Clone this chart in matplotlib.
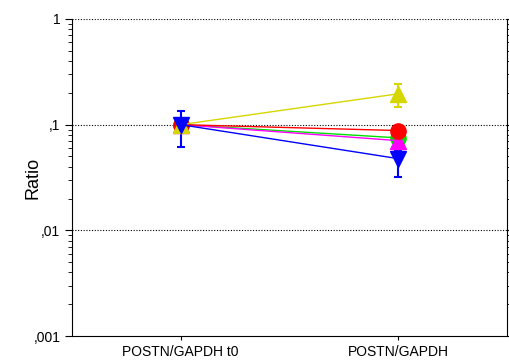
import matplotlib
matplotlib.use("Agg")
import matplotlib.pyplot as plt
from matplotlib.ticker import LogLocator, FuncFormatter, NullFormatter

plt.rcParams['font.family'] = ['Liberation Sans', 'DejaVu Sans']

# data
categories = ['POSTN/GAPDH t0', 'POSTN/GAPDH']
yellow_vals = [0.1, 0.196]
yellow_err = [[0.0, 0.048], [0.0, 0.048]]
green_vals = [0.1, 0.075]
green_err = [[0.0, 0.004], [0.0, 0.004]]
red_vals = [0.1, 0.088]
red_err = [[0.0, 0.004], [0.0, 0.004]]
magenta_vals = [0.1, 0.0706]
magenta_err = [[0.0, 0.006], [0.0, 0.006]]
blue_vals = [0.1, 0.0477]
blue_err = [[0.039, 0.0155], [0.036, 0.009]]

# draw order: first ones end up underneath
series = [
    (green_vals, green_err, '#00e000', 'o'),
    (magenta_vals, magenta_err, '#ff00ff', '^'),
    (red_vals, red_err, '#ff0000', 'o'),
    (yellow_vals, yellow_err, '#d6d600', '^'),
    (blue_vals, blue_err, '#0000ff', 'v'),
]

fig = plt.figure(figsize=(5.1, 3.61), dpi=100)
ax = fig.add_axes([72 / 510, 25 / 361, 435 / 510, 317 / 361])

x = list(range(len(categories)))
for vals, err, col, mk in series:
    ax.errorbar(x, vals, yerr=err, color=col, marker=mk, markersize=11,
                linewidth=1, elinewidth=1.5, capsize=3, capthick=1.5)

ax.set_yscale('log')
ax.set_ylim(0.001, 1)
ax.set_xlim(-0.5, 1.5)
ax.set_xticks(x)
ax.set_xticklabels(categories, fontsize=10)

labels = {1: '1', 0.1: ',1', 0.01: ',01', 0.001: ',001'}
ax.yaxis.set_major_locator(LogLocator(base=10))
ax.yaxis.set_minor_locator(LogLocator(base=10, subs=range(2, 10)))
ax.yaxis.set_major_formatter(FuncFormatter(lambda v, p: labels.get(round(v, 6), '')))
ax.yaxis.set_minor_formatter(NullFormatter())
ax.tick_params(axis='y', which='both', direction='out', right=True, labelsize=10)
ax.tick_params(axis='y', which='major', length=5)
ax.tick_params(axis='y', which='minor', length=3)
ax.tick_params(axis='x', length=3)

for yv in [0.1, 0.01, 1]:
    ax.axhline(yv, color='black', linestyle=(0, (1, 1.5)), linewidth=0.8, zorder=0)
ax.spines['top'].set_visible(False)

ax.set_ylabel('Ratio', fontsize=13)
ax.yaxis.set_label_coords(-30 / 435, 0.5)

fig.savefig('out.png', dpi=100)
